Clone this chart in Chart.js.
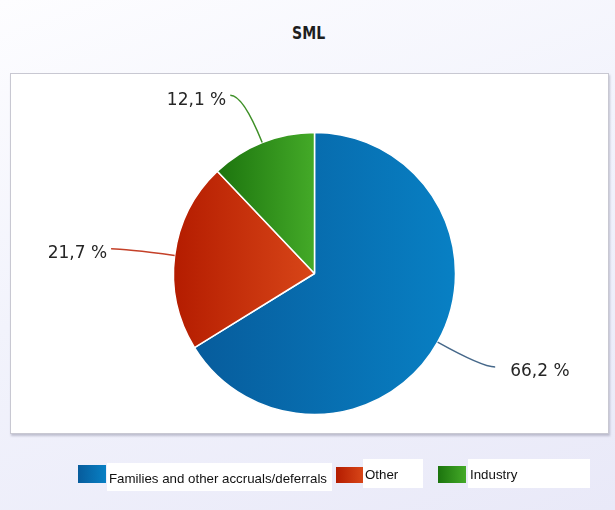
<!DOCTYPE html>
<html>
<head>
<meta charset="utf-8">
<title>SML</title>
<script src="https://cdn.jsdelivr.net/npm/chart.js@4.4.1/dist/chart.umd.min.js"></script>
<style>
    html, body { margin: 0; padding: 0; }
    body {
        width: 615px;
        height: 510px;
        overflow: hidden;
        position: relative;
        background: linear-gradient(160deg, #fdfdff 0%, #f2f3fc 45%, #e9e9f8 100%);
        font-family: 'Liberation Sans', Arial, sans-serif;
    }
    #title {
        position: absolute;
        left: 1px;
        top: 22px;
        width: 615px;
        text-align: center;
        line-height: 20px;
        font: bold 18px 'DejaVu Sans Condensed', 'DejaVu Sans', sans-serif;
        color: #1e1e1e;
        transform: scaleX(0.87);
        transform-origin: 308px 0;
    }
    #panel {
        position: absolute;
        left: 10px;
        top: 73px;
        width: 597px;
        height: 359px;
        background: #fff;
        border: 1px solid #c8c8d2;
        box-shadow: 1px 2px 2px rgba(80, 80, 110, 0.3);
    }
    #pieChart { position: absolute; left: 0; top: 0; }
    .lg-box { position: absolute; }
    .lg-text {
        position: absolute;
        box-sizing: border-box;
        background: #fff;
        padding: 8px 0 0 2px;
        font-size: 13.3px;
        line-height: 15px;
        color: #111;
        white-space: nowrap;
    }
</style>
</head>
<body>
<div id="title">SML</div>
<div id="panel"></div>
<canvas id="pieChart" width="615" height="510"></canvas>
<div id="legend"></div>

<script>
// Data
const categories = ['Families and other accruals/deferrals', 'Other', 'Industry'];
const shares = [66.2, 21.7, 12.1];

// Slice shading (left -> right) and connector colours
const shadeLeft = ['#075c9c', '#b41c00', '#1c740e'];
const shadeRight = ['#0880c4', '#d84618', '#44aa28'];
const lineColors = ['#46688a', '#c44028', '#3f9028'];

const PIE_RADIUS = 141;
const LABEL_DISTANCE = 51;

// Legend placement: box + white label strip for each entry
const legendLayout = [
    { boxX: 78,  boxY: 465, boxW: 28, boxH: 18, textX: 107, textY: 463, textW: 225, textH: 28 },
    { boxX: 336, boxY: 467, boxW: 27, boxH: 16, textX: 363, textY: 459, textW: 60,  textH: 29 },
    { boxX: 438, boxY: 466, boxW: 28, boxH: 17, textX: 468, textY: 459, textW: 122, textH: 29 }
];

const formatShare = (value) => value.toFixed(1).replace('.', ',') + ' %';

// Horizontal gradient spanning the slice's own width
function sliceFill(context) {
    const i = context.dataIndex;
    const area = context.chart.chartArea;
    if (!area) {
        return shadeLeft[i];
    }
    const cx = (area.left + area.right) / 2;
    const total = shares.reduce((sum, v) => sum + v, 0);
    const before = shares.slice(0, i).reduce((sum, v) => sum + v, 0);
    const a0 = -Math.PI / 2 + before / total * Math.PI * 2;
    const a1 = a0 + shares[i] / total * Math.PI * 2;

    let minX = cx;
    let maxX = cx;
    for (let k = 0; k <= 60; k++) {
        const x = cx + Math.cos(a0 + (a1 - a0) * k / 60) * PIE_RADIUS;
        minX = Math.min(minX, x);
        maxX = Math.max(maxX, x);
    }
    const gradient = context.chart.ctx.createLinearGradient(minX, 0, maxX, 0);
    gradient.addColorStop(0, shadeLeft[i]);
    gradient.addColorStop(1, shadeRight[i]);
    return gradient;
}

// Percent labels with soft connectors
const sliceLabels = {
    id: 'sliceLabels',
    afterDatasetsDraw(chart) {
        const { ctx } = chart;
        const arcs = chart.getDatasetMeta(0).data;

        ctx.save();
        ctx.font = '17px "DejaVu Sans", sans-serif';
        ctx.textBaseline = 'middle';
        arcs.forEach((arc, i) => {
            const mid = (arc.startAngle + arc.endAngle) / 2;
            const r = arc.outerRadius;
            const dx = Math.cos(mid);
            const dy = Math.sin(mid);
            const side = dx >= 0 ? 1 : -1;

            const sx = arc.x + dx * r;
            const sy = arc.y + dy * r;
            const px = arc.x + dx * (r + LABEL_DISTANCE);
            const py = arc.y + dy * (r + LABEL_DISTANCE);
            const ex = px + side * 13;

            ctx.beginPath();
            ctx.moveTo(sx, sy);
            ctx.quadraticCurveTo(px, py, ex, py);
            ctx.strokeStyle = lineColors[i];
            ctx.lineWidth = 1.5;
            ctx.stroke();

            ctx.fillStyle = '#262626';
            ctx.textAlign = side > 0 ? 'left' : 'right';
            ctx.fillText(formatShare(shares[i]), ex + (side > 0 ? 15 : -4), py + 5);
        });
        ctx.restore();
    }
};

// Build legend
function buildLegend() {
    const legend = document.getElementById('legend');
    categories.forEach((name, i) => {
        const pos = legendLayout[i];

        const box = document.createElement('div');
        box.className = 'lg-box';
        box.style.left = pos.boxX + 'px';
        box.style.top = pos.boxY + 'px';
        box.style.width = pos.boxW + 'px';
        box.style.height = pos.boxH + 'px';
        box.style.background = `linear-gradient(to right, ${shadeLeft[i]}, ${shadeRight[i]})`;
        legend.appendChild(box);

        const label = document.createElement('div');
        label.className = 'lg-text';
        label.style.left = pos.textX + 'px';
        label.style.top = pos.textY + 'px';
        label.style.width = pos.textW + 'px';
        label.style.height = pos.textH + 'px';
        label.textContent = name;
        legend.appendChild(label);
    });
}

// Chart
const ctx = document.getElementById('pieChart').getContext('2d');
new Chart(ctx, {
    type: 'pie',
    data: {
        labels: categories,
        datasets: [{
            data: shares,
            backgroundColor: sliceFill,
            borderColor: '#ffffff',
            borderWidth: 1.5,
            hoverOffset: 0
        }]
    },
    options: {
        responsive: false,
        animation: false,
        devicePixelRatio: 1,
        radius: PIE_RADIUS,
        events: [],
        layout: {
            padding: { top: 132, bottom: 95, left: 40, right: 26 }
        },
        plugins: {
            legend: { display: false },
            tooltip: { enabled: false },
            title: { display: false }
        }
    },
    plugins: [sliceLabels]
});

buildLegend();
</script>
</body>
</html>
